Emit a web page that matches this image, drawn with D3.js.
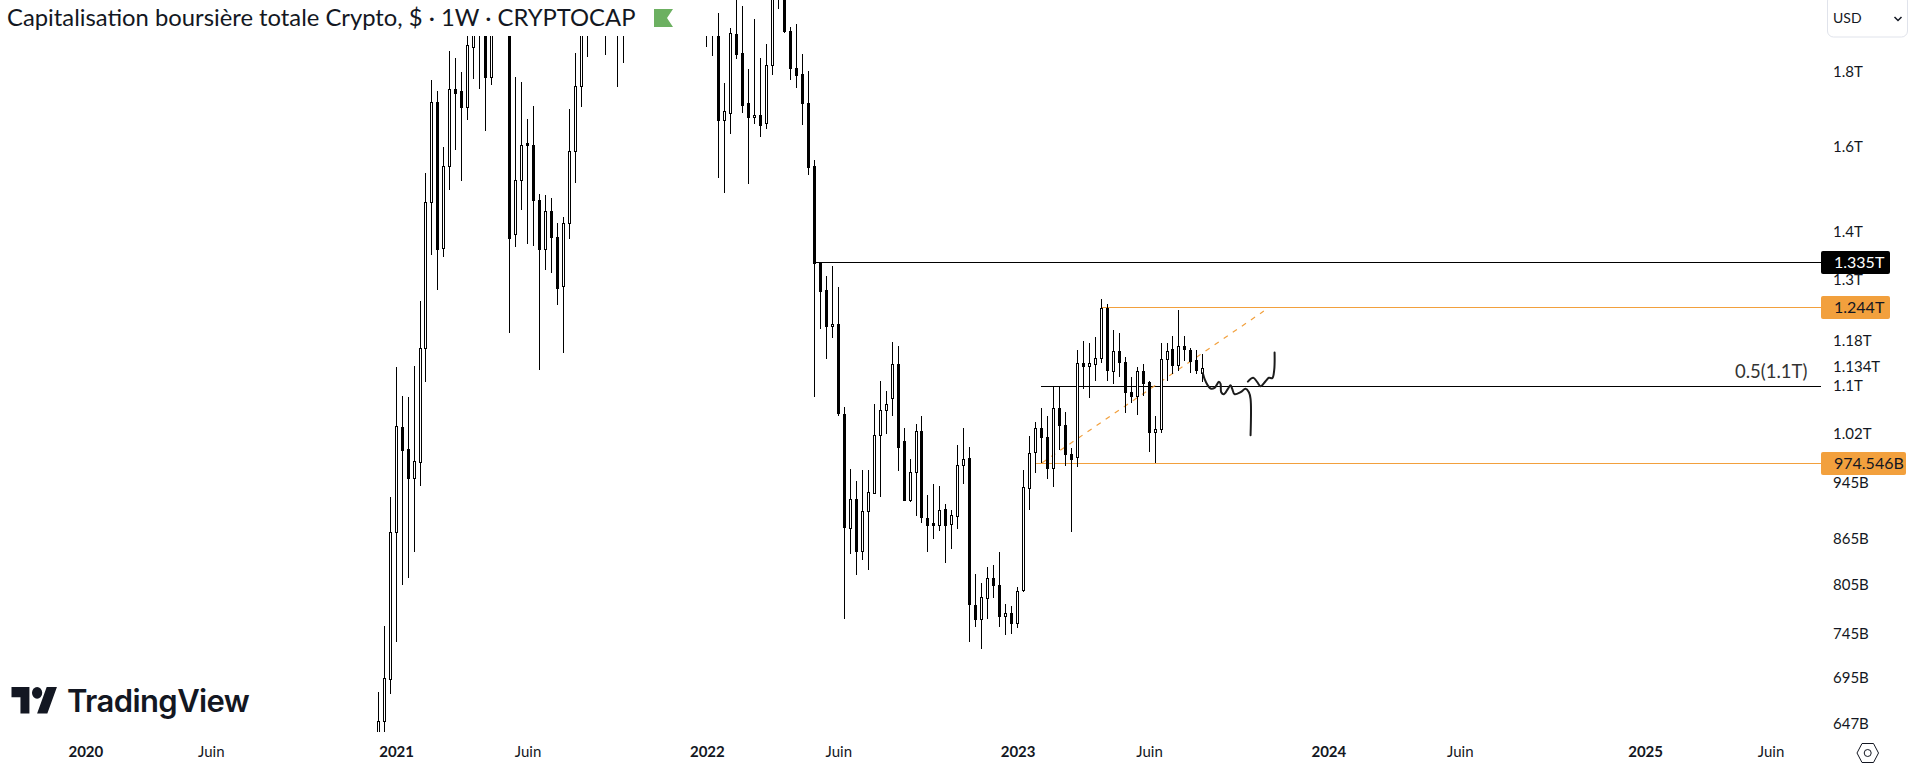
<!DOCTYPE html>
<html>
<head>
<meta charset="utf-8">
<title>Capitalisation boursière totale Crypto</title>
<script src="https://cdn.jsdelivr.net/npm/d3@7"></script>
<style>
  html, body { margin: 0; padding: 0; background: #fff; overflow: hidden; }
  text { font-family: Lato, "Noto Sans", sans-serif; fill: #131722; }
</style>
</head>
<body>
<div id="chart"></div>
<script>
// weekly candles, prices in billions of USD (candles above the top edge are estimates)
const firstWeek = new Date(Date.UTC(2020, 11, 14));
const opens = [
  622, 650, 694, 873.5, 1031.5, 996.5, 951, 975, 1167, 1466.5,
  1716, 1365.5, 1554, 1752, 1746, 1704.5, 1873, 1915, 1970, 1787,
  1960, 2050, 2250, 1396.5, 1518, 1609, 1606, 1473, 1363, 1448,
  1390, 1286, 1419, 1589, 1760, 1955, 2060, 2000, 2090, 1960,
  2040, 1935, 2030, 2340, 2460, 2520, 2560, 2690, 2790, 2580,
  2600, 2520, 2280, 2200, 2340, 2210, 2000, 1905, 1668, 1687,
  1910.5, 1853.5, 1714, 1678, 1681, 1660.5, 1819, 2050, 2130, 1919,
  1810.5, 1794, 1714, 1552, 1333.5, 1277.5, 1208, 1212.5, 1052, 879,
  921, 849, 903, 929, 1017.5, 1058, 1078.5, 1138.3, 1008.5, 919.7,
  960, 1024.6, 894, 887, 883.3, 906.3, 884.6, 897, 970.6, 982.5,
  779.4, 763, 788, 813, 804.3, 766.7, 769.6, 758.3, 797.9, 936.8,
  991.3, 1029.3, 1015, 966, 1062.3, 1034.3, 988.2, 983, 1140, 1134,
  1138.3, 1148.4, 1241.8, 1126, 1162, 1142, 1089.4, 1082, 1126.4, 1106.6,
  1022.4, 1027.8, 1147.3, 1164.2, 1135.9, 1171, 1163.7, 1144.3, 1122.3
];
const highs = [
  680, 754, 924, 1132, 1083, 1080, 1135, 1255.5, 1537, 1777.5,
  1747, 1600, 1860.5, 1840, 1800, 1990, 2010, 2020, 1990, 2060,
  2100, 2290, 2300, 1785, 1771, 1671.5, 1705.5, 1485, 1483, 1476,
  1419, 1434, 1697.5, 1854, 2010, 2100, 2110, 2120, 2130, 2060,
  2080, 2060, 2400, 2520, 2640, 2680, 2760, 2930, 2980, 2680,
  2720, 2640, 2320, 2390, 2420, 2260, 2080, 1975, 1769.5, 1928,
  2040, 1997, 1807.5, 1956.5, 1840, 1880, 2085, 2190, 2170, 1931,
  1941, 1851, 1803, 1567, 1335, 1306, 1326.5, 1283.5, 1064.5, 965,
  947.6, 964, 964, 1069, 1108.4, 1090, 1178.5, 1170, 1030, 981,
  1035, 1048, 927, 942.7, 940, 914, 905, 1002.4, 1030, 999.5,
  818.7, 807, 827, 830.3, 847.5, 780.5, 778.5, 802, 964, 1016.6,
  1039, 1062.3, 1049, 1098, 1098, 1055.7, 998, 1163.7, 1180.3, 1177,
  1186.5, 1259.5, 1249.6, 1201, 1195, 1151, 1115.4, 1132.3, 1138.3, 1107.7,
  1049.5, 1176.6, 1177, 1189.6, 1237.9, 1188.4, 1166.7, 1163.7, 1156
];
const lows = [
  610, 632, 678, 736, 804, 812.7, 847.5, 939, 1106, 1350.5,
  1278, 1346, 1496, 1593, 1517, 1669, 1781, 1753, 1641, 1763,
  1930, 2010, 1194.5, 1367.5, 1449.5, 1374, 1368.5, 1127.5, 1319, 1313,
  1248, 1157.5, 1385, 1512.5, 1704.5, 1844, 1930, 1950, 1849.5, 1915,
  1759, 1826, 2000, 2300, 2400, 2420, 2500, 2650, 2560, 2450,
  2400, 2100, 2090, 2130, 2130, 1873, 1846, 1524, 1489, 1633.5,
  1838, 1688.5, 1510, 1659.5, 1626, 1646.5, 1792, 1988, 1912, 1778,
  1755, 1657, 1532, 1081, 1203, 1147, 1185, 1048.4, 763, 844,
  816.5, 837, 824, 928, 924, 1019, 1049.5, 961.5, 918, 917,
  896, 887, 846.5, 865, 876, 832, 851.5, 878.6, 942, 735.6,
  753.4, 728, 763, 788.6, 753.4, 744, 745, 752.3, 795, 904.3,
  959.6, 974, 949.6, 937.7, 994.4, 969, 873.6, 967.6, 1093.8, 1078.5,
  1107.7, 1139.4, 1107.7, 1102.5, 1114.7, 1053.3, 1070, 1050, 1082, 991.8,
  974.8, 1020.8, 1107.7, 1119.4, 1126.4, 1143.8, 1121.6, 1119.4, 1106.6
];
const closes = [
  650, 695, 874, 1032.5, 995, 951, 977, 1167.5, 1466.5, 1716,
  1364, 1554, 1752, 1742, 1704.5, 1877, 1960, 1965, 1787, 1970,
  2050, 2240, 1387, 1518, 1604, 1605, 1472.5, 1363, 1448, 1389,
  1282, 1419, 1589, 1760, 1960, 2060, 2000, 2090, 1960, 2040,
  1935, 2030, 2340, 2460, 2520, 2560, 2690, 2790, 2580, 2600,
  2520, 2280, 2200, 2340, 2210, 2000, 1960, 1670, 1692, 1912.5,
  1852.5, 1710, 1678, 1683.5, 1655, 1819, 2050, 2130, 1918, 1812,
  1792, 1715, 1551, 1334.5, 1276, 1208, 1212, 1053.3, 880.5, 921,
  849, 903.5, 931, 1018, 1059, 1069, 1138.3, 998.5, 919.7, 960.6,
  1024.6, 894.4, 884, 883.3, 905, 883.3, 897.8, 971, 980.4, 781.3,
  763, 789, 813, 804, 766.7, 769.6, 758.3, 796.6, 938, 989.7,
  1029.3, 1014.3, 966, 1062.3, 1033.7, 987.6, 980.8, 1140, 1134, 1140,
  1149, 1241.8, 1127, 1162, 1141.3, 1088.7, 1082, 1126, 1104, 1022.4,
  1027.8, 1147.3, 1162, 1135.9, 1171, 1164.9, 1143, 1127.6, 1131.7
];

const priceTicks = [1800, 1600, 1400, 1300, 1180, 1134, 1100, 1020, 945, 865, 805, 745, 695, 647];
const priceTickLabels = ["1.8T", "1.6T", "1.4T", "1.3T", "1.18T", "1.134T", "1.1T", "1.02T", "945B", "865B", "805B", "745B", "695B", "647B"];

const timeTicks = [
  Date.UTC(2020, 0, 6), Date.UTC(2020, 5, 1), Date.UTC(2021, 0, 4), Date.UTC(2021, 5, 7),
  Date.UTC(2022, 0, 3), Date.UTC(2022, 5, 6), Date.UTC(2023, 0, 2), Date.UTC(2023, 5, 5),
  Date.UTC(2024, 0, 1), Date.UTC(2024, 5, 3), Date.UTC(2025, 0, 6), Date.UTC(2025, 5, 2)
].map(d => new Date(d));
const timeTickLabels = ["2020", "Juin", "2021", "Juin", "2022", "Juin", "2023", "Juin", "2024", "Juin", "2025", "Juin"];

// drawn levels: [first week index, price]
const blackLevel = [73, 1335];
const upperLevel = [121, 1244];
const lowerLevel = [110, 974.546];
const fibLevel = [111, 1099];
const trendWeeks = [111.1, 148.2];
const trendPrices = [974.5, 1236.5];

// hand-drawn brush strokes
const brushWeeks1 = [138, 138.28, 138.84, 139.28, 139.95, 140.68, 140.96, 141.07, 141.52, 142.19, 142.63, 142.91, 143.3, 144.31, 145.14, 145.7, 145.98, 145.98];
const brushPrices1 = [1121.6, 1111.8, 1100, 1095, 1096, 1106.6, 1103, 1088.7, 1085.3, 1094.5, 1100.7, 1094.5, 1085.3, 1088.7, 1094.5, 1088.7, 1077.5, 1017.5];
const brushWeeks2 = [145.53, 146.43, 147.1, 147.66, 148.49, 149.05, 149.61, 149.94, 150];
const brushPrices2 = [1107, 1113.6, 1106, 1099, 1107.7, 1113.6, 1113, 1127.6, 1158.7];

const width = 1911, height = 769, plotRight = 1821, plotBottom = 732;
const orange = "#f2a03d";

const svg = d3.select("#chart").append("svg")
  .attr("width", width)
  .attr("height", height)
  .style("display", "block");

const weekDate = i => new Date(firstWeek.getTime() + i * 7 * 864e5);

const x = d3.scaleUtc()
  .domain([firstWeek, weekDate(138)])
  .range([378.18, 1202.87]);
const y = d3.scaleLog()
  .domain([1800, 647])
  .range([71.9, 723.7]);

svg.append("clipPath").attr("id", "plot")
  .append("rect").attr("width", plotRight).attr("height", plotBottom);
const plot = svg.append("g").attr("clip-path", "url(#plot)");

// levels sit behind the candles
function level(lv, color) {
  plot.append("line")
    .attr("x1", Math.floor(x(weekDate(lv[0]))))
    .attr("x2", plotRight)
    .attr("y1", Math.round(y(lv[1])) + 0.5)
    .attr("y2", Math.round(y(lv[1])) + 0.5)
    .attr("stroke", color)
    .attr("stroke-width", 1);
}
level(blackLevel, "#000");
level(upperLevel, orange);
level(lowerLevel, orange);
level(fibLevel, "#000");

plot.append("line")
  .attr("x1", x(weekDate(trendWeeks[0])))
  .attr("y1", y(trendPrices[0]))
  .attr("x2", x(weekDate(trendWeeks[1])))
  .attr("y2", y(trendPrices[1]))
  .attr("stroke", orange)
  .attr("stroke-width", 1.2)
  .attr("stroke-dasharray", "5 6");

const candles = plot.selectAll("g.candle")
  .data(opens.map((o, i) => i))
  .enter().append("g")
  .attr("class", "candle");

candles.append("rect")
  .attr("x", i => Math.floor(x(weekDate(i))))
  .attr("width", 1)
  .attr("y", i => Math.round(y(highs[i])))
  .attr("height", i => Math.max(1, Math.round(y(lows[i])) - Math.round(y(highs[i]))))
  .attr("fill", "#000");

candles.append("rect")
  .attr("x", i => Math.floor(x(weekDate(i))) - 0.5)
  .attr("width", 2)
  .attr("y", i => Math.round(y(Math.max(opens[i], closes[i]))) + 0.5)
  .attr("height", i => Math.max(1, Math.round(y(Math.min(opens[i], closes[i]))) - Math.round(y(Math.max(opens[i], closes[i])))))
  .attr("fill", i => closes[i] >= opens[i] ? "#fff" : "#000")
  .attr("stroke", "#000")
  .attr("stroke-width", 1);

const brush = d3.line()
  .x(d => x(weekDate(d[0])))
  .y(d => y(d[1]))
  .curve(d3.curveCatmullRom);
[[brushWeeks1, brushPrices1], [brushWeeks2, brushPrices2]].forEach(s => {
  plot.append("path")
    .attr("d", brush(s[0].map((w, i) => [w, s[1][i]])))
    .attr("fill", "none")
    .attr("stroke", "#1c1c1c")
    .attr("stroke-width", 2)
    .attr("stroke-linecap", "round");
});

// legend strip hides whatever runs under the title
svg.append("rect").attr("width", 714).attr("height", 36).attr("fill", "#fff");
svg.append("text")
  .attr("x", 7)
  .attr("y", 26)
  .style("font-size", "23.8px")
  .text("Capitalisation boursière totale Crypto, $ · 1W · CRYPTOCAP");
svg.append("path")
  .attr("d", "M654 9H673L667 18L673 27H654Z")
  .attr("fill", "#6cb061");

// price axis
const yAxis = svg.append("g")
  .attr("transform", "translate(1833,0)")
  .call(d3.axisRight(y).tickValues(priceTicks).tickFormat((d, i) => priceTickLabels[i]).tickSize(0).tickPadding(0));
yAxis.select(".domain").remove();
yAxis.selectAll("text").style("font-size", "15px").style("fill", "#131722").attr("x", 0);

// time axis
const xAxis = svg.append("g")
  .attr("transform", "translate(0,746)")
  .call(d3.axisBottom(x).tickValues(timeTicks).tickFormat((d, i) => timeTickLabels[i]).tickSize(0).tickPadding(0));
xAxis.select(".domain").remove();
xAxis.selectAll("text")
  .style("font-size", "15px")
  .style("font-weight", (d, i) => timeTickLabels[i] === "Juin" ? 400 : 700)
  .style("fill", "#131722");

// price labels on the axis
function priceTag(price, label, w, bg, fg) {
  const py = Math.round(y(price)) + 0.5;
  svg.append("rect")
    .attr("x", plotRight)
    .attr("y", py - 11.5)
    .attr("width", w)
    .attr("height", 23)
    .attr("rx", 2)
    .attr("fill", bg);
  svg.append("text")
    .attr("x", 1834)
    .attr("y", py + 5.5)
    .style("font-size", "16px")
    .style("fill", fg)
    .text(label);
}
priceTag(blackLevel[1], "1.335T", 69, "#000", "#fff");
priceTag(upperLevel[1], "1.244T", 69, orange, "#131722");
priceTag(lowerLevel[1], "974.546B", 85, orange, "#131722");

svg.append("text")
  .attr("x", 1735)
  .attr("y", 378)
  .style("font-size", "18.5px")
  .style("fill", "#333")
  .text("0.5(1.1T)");

// currency button
svg.append("rect")
  .attr("x", 1827.5).attr("y", -5)
  .attr("width", 80).attr("height", 42)
  .attr("rx", 6)
  .attr("fill", "#fff")
  .attr("stroke", "#e0e3eb");
svg.append("text")
  .attr("x", 1833).attr("y", 23)
  .style("font-size", "14px")
  .text("USD");
svg.append("path")
  .attr("d", "M1894.5 17l3.5 3.5l3.5-3.5")
  .attr("fill", "none")
  .attr("stroke", "#131722")
  .attr("stroke-width", 1.5);

// settings hexagon
svg.append("path")
  .attr("d", "M1857 753L1862 743.5H1873.5L1878.5 753L1873.5 762.5H1862Z")
  .attr("fill", "none")
  .attr("stroke", "#131722");
svg.append("circle")
  .attr("cx", 1867.7).attr("cy", 753).attr("r", 3.5)
  .attr("fill", "none")
  .attr("stroke", "#131722");

// logo
const logo = svg.append("g").attr("transform", "translate(11.5,681) scale(1.28,1.48)");
logo.append("path").attr("d", "M14 22H7V11H0V4h14v18zM28 22h-8l7.5-18h8L28 22z").attr("fill", "#131722");
logo.append("circle").attr("cx", 20).attr("cy", 8).attr("r", 4).attr("fill", "#131722");
svg.append("text")
  .attr("x", 67)
  .attr("y", 712)
  .style("font-family", "Inter")
  .style("font-weight", 600)
  .style("font-size", "31px")
  .style("letter-spacing", "-0.6px")
  .text("TradingView");
</script>
</body>
</html>
